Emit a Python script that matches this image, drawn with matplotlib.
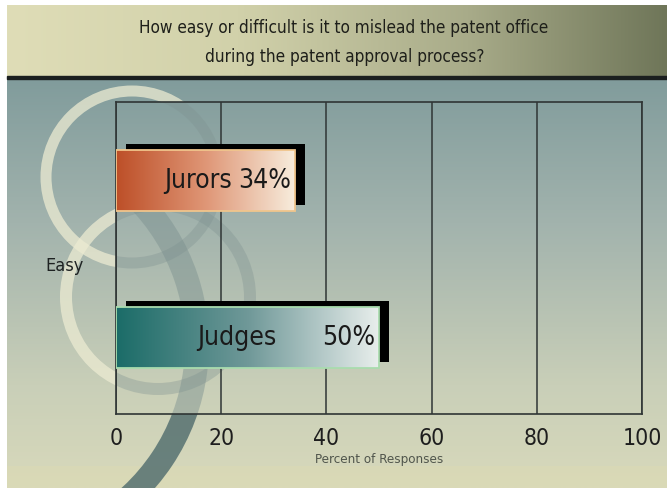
import numpy as np
import matplotlib

matplotlib.use("Agg")
import matplotlib.pyplot as plt
import matplotlib.patheffects as pe
from matplotlib.colors import LinearSegmentedColormap
from matplotlib.patches import Circle, Arc, Rectangle

# --- data ---
groups = ["Judges", "Jurors"]
values = [50, 34]
category = "Easy"
ticks = [0, 20, 40, 60, 80, 100]
title1 = "How easy or difficult is it to mislead the patent office"
title2 = "during the patent approval process?"
xlabel = "Percent of Responses"

plt.rcParams["font.family"] = "DejaVu Sans"
plt.rcParams["font.stretch"] = "condensed"

W, H = 667, 489
fig = plt.figure(figsize=(W / 100, H / 100), dpi=100)
bg = fig.add_axes([0, 0, 1, 1])
bg.axis("off")

# gradients for the backdrop (pixel coordinates, y down)
band_cmap = LinearSegmentedColormap.from_list(
    "band", [(0, "#dfddb7"), (0.35, "#d1d1aa"), (0.7, "#a8ab89"), (1, "#6f7659")])
main_cmap = LinearSegmentedColormap.from_list(
    "main", [(0, "#819c9c"), (0.35, "#a2b3ad"), (0.75, "#c9cfb8"), (1, "#d8d9bb")])

bg.imshow(np.linspace(0, 1, 256)[None, :], cmap=band_cmap, extent=[7, W, 77, 6], aspect="auto", zorder=0)
bg.add_patch(Rectangle((7, 76.5), W - 7, 3.5, color="#1b1f1f", zorder=3))
col = np.linspace(0, 1, 409)[:, None]
bg.imshow(col, cmap=main_cmap, extent=[7, W, 489, 80], aspect="auto", zorder=0)
bg.add_patch(Rectangle((7, 467), W - 7, 22, color="#dcdab4", alpha=0.55, lw=0, zorder=0.5))

# decorative rings
rings = [((132, 178), 86, 11), ((158, 298), 92, 12)]
for (cx, cy), r, w in rings:
    bg.add_patch(Circle((cx, cy), r, fill=False, lw=w * 0.72, ec="#ecebd2", alpha=0.75, zorder=1))
bg.add_patch(Arc((-10, 345), 414, 414, theta1=-45, theta2=60, lw=24 * 0.72, ec="#567171",
                 alpha=0.85, zorder=1))

# chart area: cover the rings, then redraw them faintly
AX_L, AX_R, AX_T, AX_B = 116, 642, 103, 415
bg.imshow(col[AX_T - 80:AX_B - 80], cmap=main_cmap, vmin=0, vmax=1,
          extent=[AX_L, AX_R, AX_B, AX_T], aspect="auto", zorder=1.5)
clip = Rectangle((AX_L, AX_T), AX_R - AX_L, AX_B - AX_T, transform=bg.transData)
for (cx, cy), r, w in rings:
    c = Circle((cx, cy), r, fill=False, lw=w * 0.72, ec="#7e9190", alpha=0.35, zorder=2)
    bg.add_patch(c)
    c.set_clip_path(clip)
a = Arc((-10, 345), 414, 414, theta1=-45, theta2=60, lw=24 * 0.72, ec="#7a8f8e", alpha=0.45, zorder=2)
bg.add_patch(a)
a.set_clip_path(clip)
bg.set_xlim(0, W)
bg.set_ylim(H, 0)

fig.text(344 / W, 1 - 28 / H, title1, ha="center", va="center", fontsize=12.3, color="#1e1f1a")
fig.text(345 / W, 1 - 57 / H, title2, ha="center", va="center", fontsize=12.3, color="#1e1f1a")
fig.text(65 / W, 1 - 266 / H, category, ha="center", va="center", fontsize=13, color="#1e2222")

# ---------- chart ----------
ax = fig.add_axes([AX_L / W, 1 - AX_B / H, (AX_R - AX_L) / W, (AX_B - AX_T) / H])
ax.patch.set_visible(False)
pos = np.arange(len(groups))
bar_h = 0.39
grads = [["#1b6c68", "#6f9898", "#e8eeec"], ["#bd4f28", "#df9676", "#f7ecdc"]]
edges = ["#a9dcae", "#f0c58c"]

bars = ax.barh(pos, values, height=bar_h, color="#888888", lw=0, zorder=2)
for b, g in zip(bars, grads):
    b.set_path_effects([pe.SimplePatchShadow(offset=(7.2, 4.3), shadow_rgbFace="black", alpha=1.0), pe.Normal()])
    im = ax.imshow(np.linspace(0, 1, 256)[None, :], cmap=LinearSegmentedColormap.from_list("g", g),
                   extent=[b.get_x(), b.get_x() + b.get_width(), b.get_y(), b.get_y() + b.get_height()],
                   aspect="auto", zorder=3)
    im.set_clip_path(b)
ax.barh(pos, values, height=bar_h, fill=False, edgecolor=edges, lw=1.3, zorder=4)

for p, v, name in zip(pos, values, groups):
    ax.text(v * 0.46, p, name, ha="center", va="center", fontsize=19, color="#1a1a1a", zorder=5)
    ax.text(v - 0.8, p, f"{v}%", ha="right", va="center", fontsize=19, color="#1a1a1a", zorder=5)

ax.set_xlim(0, 100)
ax.set_ylim(-0.49, 1.5)
ax.set_xticks(ticks)
ax.set_yticks([])
ax.grid(axis="x", color="#2f3535", lw=1.1)
ax.set_axisbelow(True)
for s in ax.spines.values():
    s.set_color("#2f3535")
    s.set_linewidth(1.2)
ax.tick_params(axis="x", length=0, pad=9, labelsize=16.5, labelcolor="#1e1e1e")
ax.set_xlabel(xlabel, fontsize=9.6, color="#50554c", labelpad=2)

fig.savefig("out.png", dpi=100)
